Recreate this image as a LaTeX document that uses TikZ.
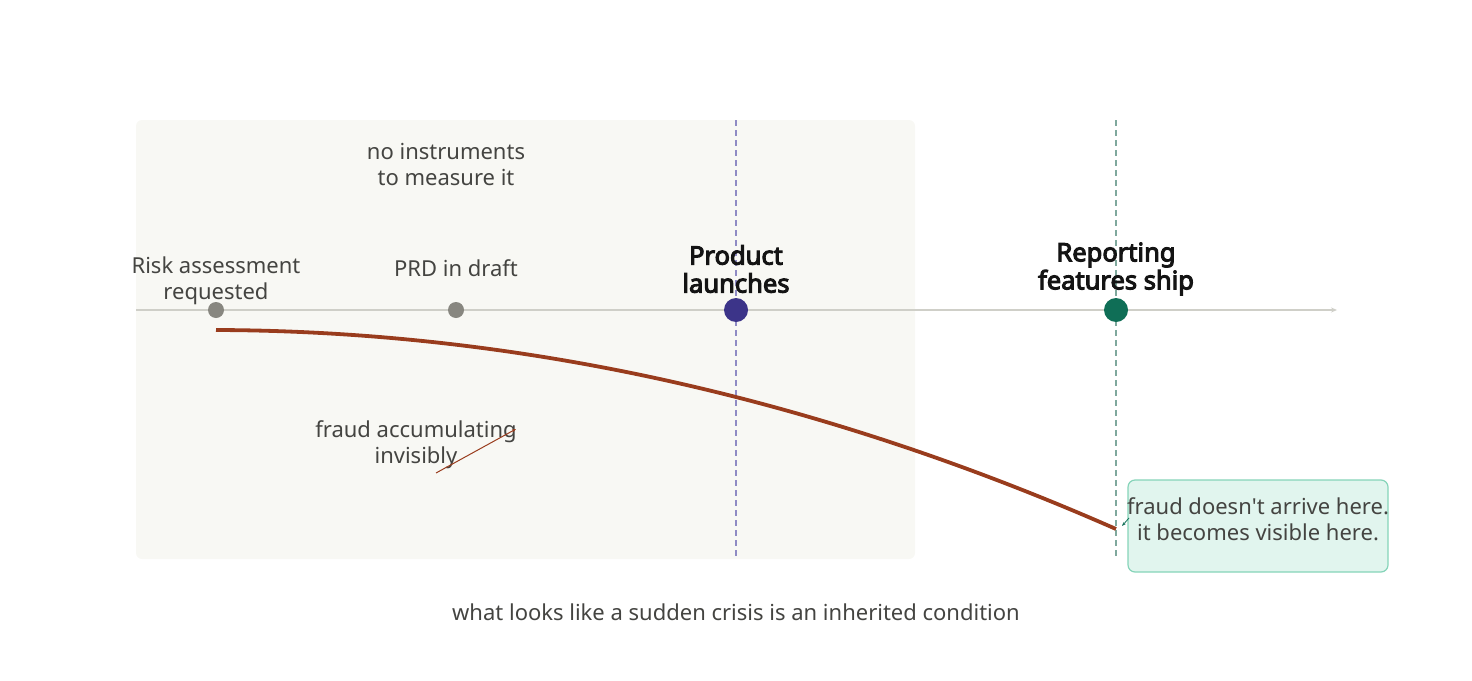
\documentclass[tikz,border=0pt]{standalone}
\usepackage{fontspec}
\setmainfont{Noto Sans}[AutoFakeBold=4]
\usetikzlibrary{arrows.meta}
\definecolor{panel}{HTML}{F8F8F4}
\definecolor{axisc}{HTML}{CFCFC8}
\definecolor{dotgray}{HTML}{888780}
\definecolor{purp}{HTML}{3C3489}
\definecolor{purpline}{HTML}{8F8BC4}
\definecolor{grn}{HTML}{0F6E56}
\definecolor{grnline}{HTML}{7FA89D}
\definecolor{curvec}{HTML}{993C1D}
\definecolor{boxfill}{HTML}{E1F5EE}
\definecolor{boxline}{HTML}{86D4B9}
\definecolor{txt}{HTML}{444441}
\definecolor{dark}{HTML}{141414}
\tikzset{
  lbl/.style={text=txt, font=\fontsize{22}{26}\selectfont, align=center, inner sep=0pt},
  blbl/.style={text=dark, font=\fontsize{25.5}{28}\selectfont\bfseries, align=center, inner sep=0pt},
  smalldot/.style={circle, fill=dotgray, minimum size=16pt, inner sep=0pt},
  bigdot/.style={circle, minimum size=24pt, inner sep=0pt},
  vdash/.style={line width=1.3pt, dash pattern=on 6pt off 4pt},
}
\begin{document}
\begin{tikzpicture}[x=1pt,y=-1pt]
\useasboundingbox (0,0) rectangle (1472,680);
% panel
\fill[panel, rounded corners=6pt] (136,120) rectangle (915,559);
% axis
\coordinate (axL) at (136,310);
\coordinate (axR) at (1337,310);
\draw[axisc, line width=1.3pt, -{Stealth[length=6pt,width=5pt]}] (axL) -- (axR);
% dashed verticals
\coordinate (pT) at (736,120); \coordinate (pB) at (736,559);
\coordinate (gT) at (1116,120); \coordinate (gB) at (1116,559);
\draw[purpline, vdash] (pT) -- (pB);
\draw[grnline, vdash] (gT) -- (gB);
% dots
\node[smalldot] (d1) at (216,310) {};
\node[smalldot] (d2) at (456,310) {};
\node[bigdot, fill=purp] (d3) at (736,310) {};
\node[bigdot, fill=grn] (d4) at (1116,310) {};
% labels
\node[lbl] (l1) at (216,281) {Risk assessment\\requested};
\node[lbl] (l2) at (456,268) {PRD in draft};
\node[blbl] (l3) at (736,269) {Product\\launches};
\node[blbl] (l4) at (1116,269) {Reporting\\features ship};
\node[lbl] (l5) at (446,165) {no instruments\\to measure it};
\node[lbl] (l6) at (416,445) {fraud accumulating\\invisibly};
% curve
\coordinate (cS) at (216,330);
\coordinate (cE) at (1116,529);
\draw[curvec, line width=3.8pt] (cS) .. controls (516,331) and (816,397) .. (cE);
% small arrow in fraud label
\coordinate (fa1) at (436,473);
\coordinate (fa2) at (516,429);
\draw[curvec, line width=1pt, -{Stealth[length=4pt,width=3pt]}] (fa1) -- (fa2);
% callout box
\node[draw=boxline, fill=boxfill, line width=1.2pt, rounded corners=7pt,
      minimum width=260pt, minimum height=92pt, inner sep=0pt] (box) at (1258,526) {};
\node[lbl] (boxt) at (1258,519) {fraud doesn\textquotesingle t arrive here.\\it becomes visible here.};
\coordinate (bxA) at (1129,518);
\draw[grn, line width=0.8pt, -{Stealth[length=4pt,width=3pt]}] (bxA) -- (1122,526);
% caption
\node[lbl] (cap) at (736,612) {what looks like a sudden crisis is an inherited condition};
\end{tikzpicture}
\end{document}
